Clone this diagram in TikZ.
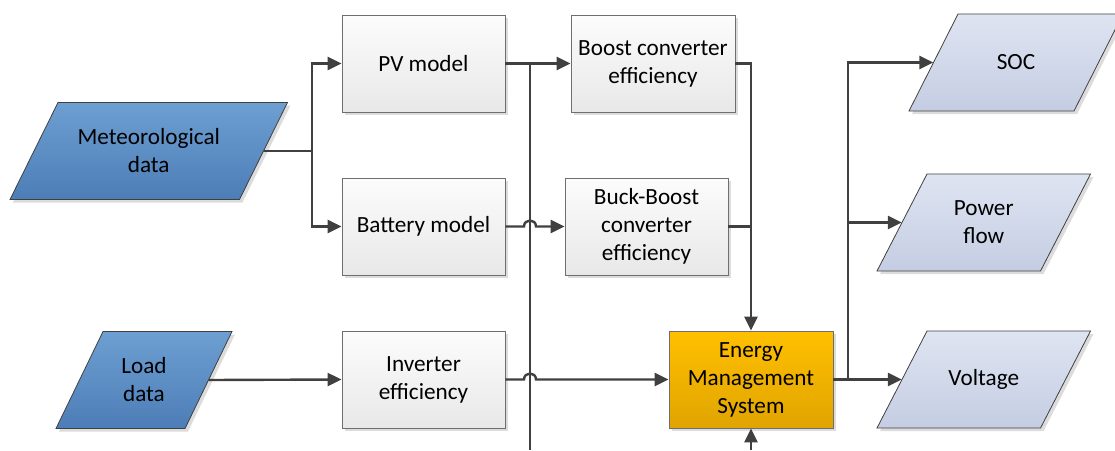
\documentclass[tikz,border=0pt]{standalone}
\usepackage{fontspec}
\setmainfont{Carlito}
\usetikzlibrary{arrows.meta,calc,shadows}
\definecolor{connc}{HTML}{404040}
\definecolor{boxtop}{HTML}{FCFCFC}
\definecolor{boxbot}{HTML}{E8E8E8}
\definecolor{boxborder}{HTML}{6E6E6E}
\definecolor{bluetop}{HTML}{6E9FD2}
\definecolor{bluebot}{HTML}{4C7DB6}
\definecolor{lavtop}{HTML}{DEE4F1}
\definecolor{lavbot}{HTML}{C5CDE3}
\definecolor{emstop}{HTML}{FFC000}
\definecolor{emsbot}{HTML}{E0A400}
\definecolor{shadowc}{HTML}{DCDCDC}
% #1 name, #2 x, #3 y, #4 width, #5 slant, #6 fill style, #7 text
\newcommand\paranode[7]{%
  \fill[shadowc] ({#2-#4/2+#5/2+3},{#3-48.5+3}) -- ({#2+#4/2+#5/2+3},{#3-48.5+3})
     -- ({#2+#4/2-#5/2+3},{#3+48.5+3}) -- ({#2-#4/2-#5/2+3},{#3+48.5+3}) -- cycle;
  \path[#6] ({#2-#4/2+#5/2},{#3-48.5}) -- ({#2+#4/2+#5/2},{#3-48.5})
     -- ({#2+#4/2-#5/2},{#3+48.5}) -- ({#2-#4/2-#5/2},{#3+48.5}) -- cycle;
  \node[minimum width=#4pt, minimum height=97pt, inner sep=0pt, align=center] (#1) at (#2,#3) {#7};
}
\begin{document}
\begin{tikzpicture}[x=1pt,y=-1pt,
  font=\fontsize{23.2}{28}\selectfont,
  conn/.style={draw=connc, line width=2.4pt},
  arr/.style={-{Triangle[length=14pt,width=13pt]}},
  procbox/.style={draw=boxborder, line width=0.8pt, top color=boxtop, bottom color=boxbot,
    minimum height=97pt, inner sep=0pt, align=center,
    drop shadow={shadow xshift=3pt, shadow yshift=-3pt, fill=shadowc, opacity=1}},
  emsbox/.style={procbox, top color=emstop, bottom color=emsbot},
  bluefill/.style={draw=connc, line width=0.8pt, top color=bluetop, bottom color=bluebot},
  lavfill/.style={draw=connc, line width=0.8pt, top color=lavtop, bottom color=lavbot}]
\useasboundingbox (0,0) rectangle (1115,450);

% inputs
\paranode{met}{148.75}{151}{229.5}{48}{bluefill}{Meteorological\\data}
\paranode{load}{144}{380}{129}{47}{bluefill}{Load\\data}

% process boxes
\node[procbox, minimum width=163pt] (pv) at (423.5,63.5) {PV model};
\node[procbox, minimum width=163pt] (bat) at (423.5,226.5) {Battery model};
\node[procbox, minimum width=163pt] (inv) at (423.5,379.5) {Inverter\\efficiency};
\node[procbox, minimum width=164pt] (boost) at (653,63.5) {Boost converter\\efficiency};
\node[procbox, minimum width=163pt] (buck) at (646.5,226.5) {Buck-Boost\\converter\\efficiency};
\node[emsbox, minimum width=164pt] (ems) at (751,379.5) {Energy\\Management\\System};

% outputs
\paranode{soc}{1016}{62.5}{165}{49}{lavfill}{SOC}
\paranode{pf}{983.75}{222.5}{163.5}{50}{lavfill}{Power\\flow}
\paranode{volt}{983.75}{379.5}{163.5}{50}{lavfill}{Voltage}

% junction coordinates
\coordinate (lt) at (312,151);
\coordinate (mt) at (530,63.5);
\coordinate (mb) at (530,450);
\coordinate (hb) at (530,226.5);
\coordinate (hi) at (530,379.5);
\coordinate (eb) at (751,450);
\coordinate (ot) at (848,379.5);

% left trunk
\draw[conn] (met.east) -- (lt);
\draw[conn,arr] (lt) |- (pv.west);
\draw[conn,arr] (lt) |- (bat.west);

% middle
\draw[conn,arr] (pv.east) -- (boost.west);
\draw[conn] (mt) -- (mb);
\draw[conn,arr] (bat.east) -- ($(hb)+(-6,0)$) .. controls ($(hb)+(-6,-8)$) and ($(hb)+(6,-8)$) .. ($(hb)+(6,0)$) -- (buck.west);
\draw[conn,arr] (inv.east) -- ($(hi)+(-6,0)$) .. controls ($(hi)+(-6,-8)$) and ($(hi)+(6,-8)$) .. ($(hi)+(6,0)$) -- (ems.west);
\draw[conn,arr] (load.east) -- (inv.west);

% right trunk into EMS
\draw[conn,arr] (boost.east) -| (ems.north);
\draw[conn] (buck.east) -- (buck.east -| ems.north);
\draw[conn,arr] (eb) -- (ems.south);

% outputs
\draw[conn] (ems.east) -- (ot);
\draw[conn,arr] (ot) -- (volt.west);
\draw[conn,arr] (ot) |- (soc.west);
\draw[conn,arr] (ot) |- (pf.west);
\end{tikzpicture}
\end{document}
